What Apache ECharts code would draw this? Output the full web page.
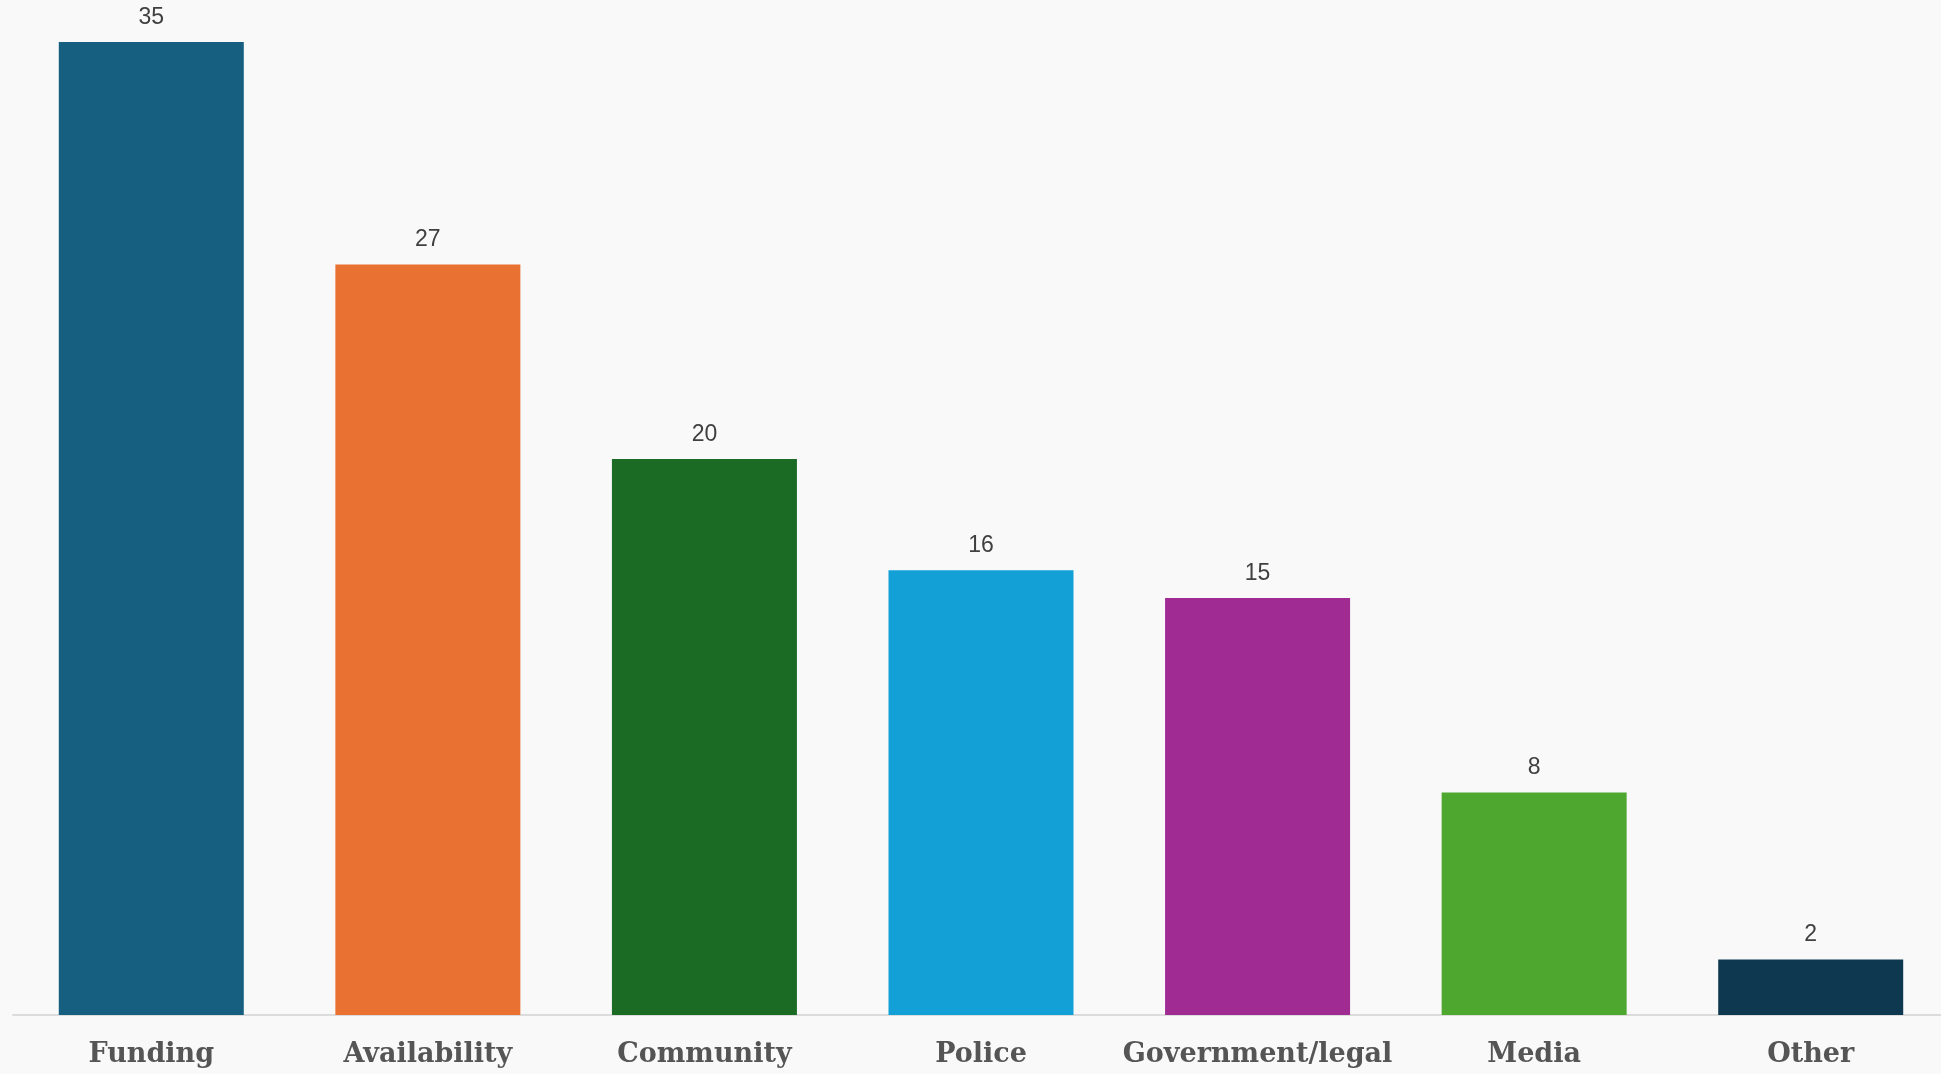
<!DOCTYPE html>
<html>
<head>
<meta charset="utf-8">
<script src="https://cdn.jsdelivr.net/npm/echarts@6/dist/echarts.min.js"></script>
<style>
html,body{margin:0;padding:0;background:#f9f9f9;overflow:hidden;}
#chart{width:1950px;height:1074px;}
</style>
</head>
<body>
<div id="chart"></div>
<script>
const categories = ["Funding", "Availability", "Community", "Police", "Government/legal", "Media", "Other"];
const values = [35, 27, 20, 16, 15, 8, 2];
const barColors = ["#165f80", "#e97132", "#1b6b24", "#12a0d7", "#a02b93", "#4ea72e", "#0e3850"];

const chart = echarts.init(document.getElementById('chart'));
chart.setOption({
  backgroundColor: '#f9f9f9',
  animation: false,
  grid: { left: 13, top: 42, width: 1936, bottom: 59, containLabel: false },
  xAxis: {
    type: 'category',
    data: categories,
    axisLine: { show: true, lineStyle: { color: '#dcdcdc', width: 2 } },
    axisTick: { show: false },
    axisLabel: {
      interval: 0,
      margin: 26,
      color: '#555555',
      fontFamily: '"DejaVu Serif", serif',
      fontWeight: 'bold',
      fontSize: 27
    }
  },
  yAxis: {
    type: 'value',
    min: 0,
    max: 35,
    show: false,
    splitLine: { show: false }
  },
  series: [{
    type: 'bar',
    barWidth: 185,
    data: values.map((v, i) => ({ value: v, itemStyle: { color: barColors[i] } })),
    label: {
      show: true,
      position: 'top',
      distance: 13,
      color: '#404040',
      fontFamily: '"Liberation Sans", Arial, sans-serif',
      fontSize: 23
    }
  }]
});
</script>
</body>
</html>
